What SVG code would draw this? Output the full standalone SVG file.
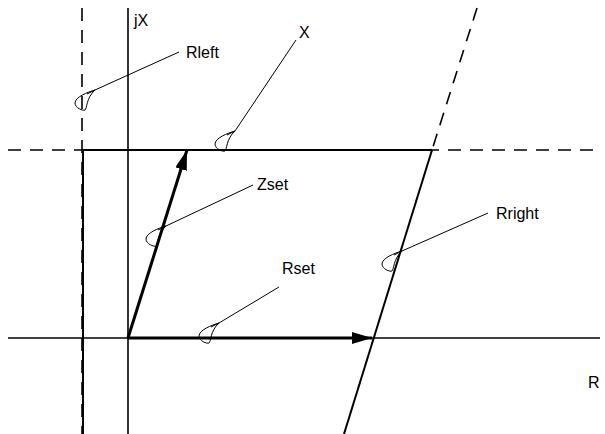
<svg xmlns="http://www.w3.org/2000/svg" width="605" height="434" viewBox="0 0 605 434">
<style>
.ax{stroke:#000;stroke-width:1.6;fill:none}
.bd{stroke:#000;stroke-width:2;fill:none}
.ds{stroke:#000;stroke-width:1.6;fill:none;stroke-dasharray:13 9}
.vec{stroke:#000;stroke-width:3;fill:none}
.ld{stroke:#000;stroke-width:1;fill:none}
.lbl{font-family:"Liberation Sans",Arial,sans-serif;font-size:16px;fill:#000}
</style>
<defs>
<marker id="ah" markerUnits="userSpaceOnUse" markerWidth="22" markerHeight="14" refX="20" refY="6" orient="auto">
<path d="M0,0 L20,6 L0,12 Z" fill="#000"/>
</marker>
<path id="tear" d="M0,0 C-7,2 -20,7 -20,13 C-20,18 -12,21 -10,20 C-8,19 -9,8 0,0 M0,0 L-8,4" fill="none" stroke="#000" stroke-width="1"/>
</defs>
<g id="axes">
<line class="ax" x1="128" y1="8" x2="128" y2="434"/>
<line class="ax" x1="8" y1="338" x2="600" y2="338"/>
</g>
<g id="boundaries">
<line class="ds" x1="82" y1="8" x2="82" y2="434"/>
<line class="bd" x1="83" y1="150" x2="83" y2="434"/>
<line class="ds" x1="8" y1="150" x2="600" y2="150"/>
<line class="bd" x1="82" y1="150" x2="432" y2="150"/>
<line class="ds" x1="477" y1="8" x2="432" y2="150"/>
<line class="bd" x1="432" y1="150" x2="344" y2="434"/>
</g>
<g id="vectors">
<line class="vec" x1="128" y1="338" x2="372" y2="338" marker-end="url(#ah)"/>
<line class="vec" x1="128" y1="338" x2="187" y2="150" marker-end="url(#ah)"/>
</g>
<g id="connectors">
<line class="ld" x1="95" y1="90" x2="179" y2="52"/>
<use href="#tear" x="95" y="90"/>
<line class="ld" x1="235" y1="131" x2="296" y2="40"/>
<use href="#tear" x="235" y="131"/>
<line class="ld" x1="166" y1="226" x2="253" y2="185"/>
<use href="#tear" x="166" y="226"/>
<line class="ld" x1="402" y1="251" x2="488" y2="213"/>
<use href="#tear" x="402" y="251"/>
<line class="ld" x1="219" y1="323" x2="279" y2="287"/>
<use href="#tear" x="219" y="323"/>
</g>
<g id="labels">
<text class="lbl" x="134" y="26">jX</text>
<text class="lbl" x="186" y="58">Rleft</text>
<text class="lbl" x="299" y="38">X</text>
<text class="lbl" x="257" y="190">Zset</text>
<text class="lbl" x="496" y="219">Rright</text>
<text class="lbl" x="282" y="274">Rset</text>
<text class="lbl" x="588" y="388">R</text>
</g>
</svg>
